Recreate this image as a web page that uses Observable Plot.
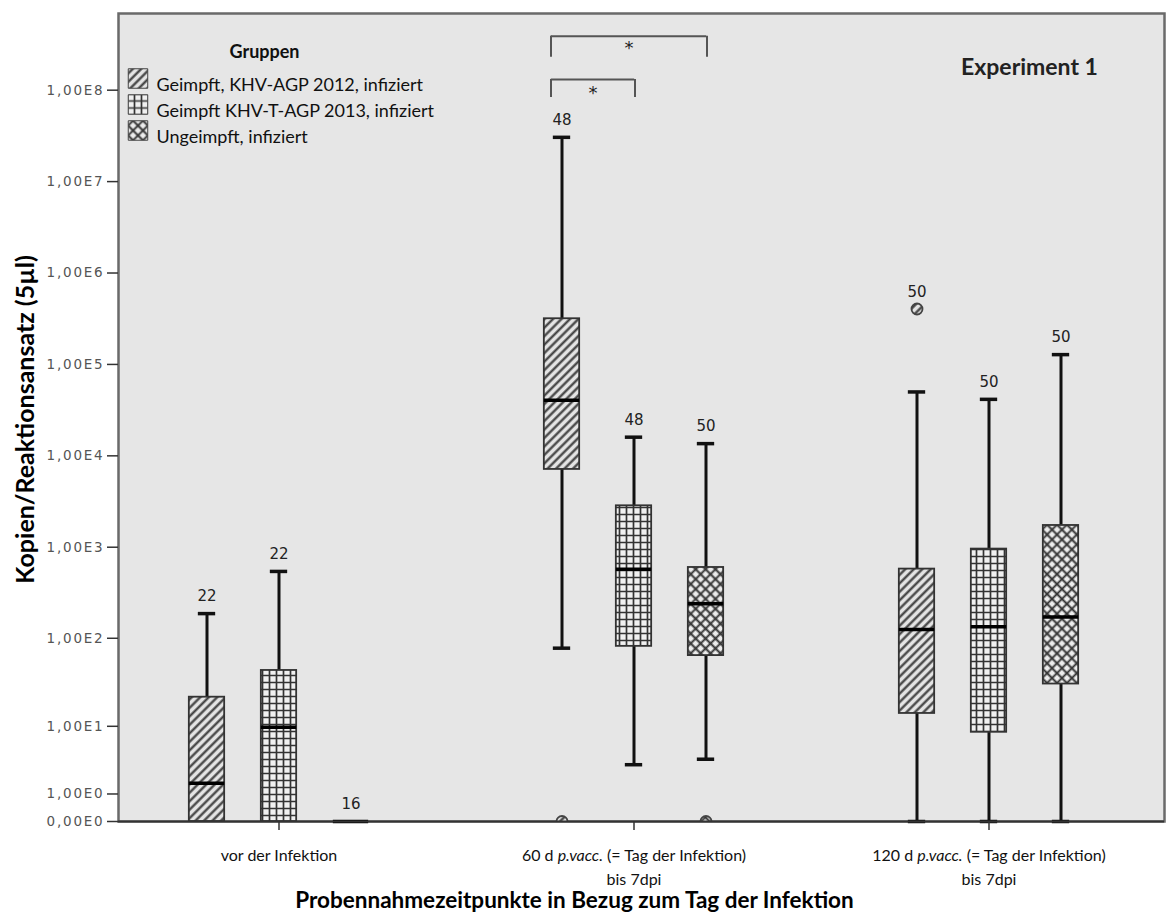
<!DOCTYPE html>
<html><head><meta charset="utf-8">
<script src="https://cdn.jsdelivr.net/npm/d3@7"></script>
<script src="https://cdn.jsdelivr.net/npm/@observablehq/plot@0.6"></script>
<style>
body{margin:0;background:#fff;}
#chart{position:relative;width:1167px;height:916px;}
#chart g[aria-label="y-axis tick label"] text{fill:#555;font-family:"DejaVu Sans",sans-serif;font-size:13.5px;letter-spacing:1.8px;}
#chart g[aria-label="x-axis tick label"] text{fill:#111;font-family:Lato,sans-serif;font-size:16px;}
</style>
</head><body>
<svg width="0" height="0" style="position:absolute">
<defs>
<pattern id="hatch" width="6" height="6" patternUnits="userSpaceOnUse" patternTransform="rotate(45)">
<rect width="6" height="6" fill="#e4e4e4"/><line x1="1.5" y1="0" x2="1.5" y2="6" stroke="#3a3a3a" stroke-width="2.2"/>
</pattern>
<pattern id="grid" width="7" height="7" patternUnits="userSpaceOnUse">
<rect width="7" height="7" fill="#f0f0f0"/><path d="M0,3.5H7M3.5,0V7" stroke="#333" stroke-width="1.7"/>
</pattern>
<pattern id="cross" width="7" height="7" patternUnits="userSpaceOnUse" patternTransform="rotate(45)">
<rect width="7" height="7" fill="#ececec"/><path d="M0,3.5H7M3.5,0V7" stroke="#333" stroke-width="1.9"/>
</pattern>
</defs></svg>
<div id="chart"></div>
<script>
// ---- data ----
const groups = ["vor", "60d", "120d"];
const groupLabels = ["vor der Infektion", "60 d p.vacc. (= Tag der Infektion)\nbis 7dpi", "120 d p.vacc. (= Tag der Infektion)\nbis 7dpi"];
const seriesNames = ["Geimpft, KHV-AGP 2012, infiziert", "Geimpft KHV-T-AGP 2013, infiziert", "Ungeimpft, infiziert"];
// order: group-major, series-minor
const whiskerLow  = [0, 0, 0,      77.7, 3.18, 3.8,     0, 0, 0];
const quart1      = [0, 0, 0,      7100, 81.4, 64.3,    14.2, 8.46, 30.9];
const medians     = [1.62, 9.76, 0, 40600, 573, 240,    125, 134, 172];
const quart3      = [21.9, 43.9, 0, 316000, 2840, 600,  576, 954, 1730];
const whiskerHigh = [187, 543, 0,  3.05e7, 16000, 13600, 50000, 41500, 128000];
const nLabels     = ["22", "22", "16", "48", "48", "50", "50", "50", "50"];
const outlierGroup  = ["60d", "60d", "120d"];
const outlierSeries = [0, 2, 0];
const outlierValue  = [0, 0, 404000];
const yTicks = [0, 1, 10, 100, 1e3, 1e4, 1e5, 1e6, 1e7, 1e8];
const brackets = [
  {group: "60d", from: 0, to: 2, top: 3.88e8, foot: 2.29e8, star: 2.87e8},
  {group: "60d", from: 0, to: 1, top: 1.31e8, foot: 8.34e7, star: 9.2e7}
];

// ---- styles ----
const W = 1167, H = 916;
const xRange = [100, 1167];
const bw = (xRange[1] - xRange[0]) / groups.length;
const offsets = [-72, 0, 72];
const fills = ["url(#hatch)", "url(#grid)", "url(#cross)"];
const boxHalf = 18, capHalf = 9;

const rows = [];
groups.forEach((g, gi) => seriesNames.forEach((s, si) => {
  const k = gi * 3 + si;
  rows.push({group: g, series: si, low: whiskerLow[k], q1: quart1[k], med: medians[k], q3: quart3[k], high: whiskerHigh[k], n: nLabels[k]});
}));
const outliers = outlierGroup.map((g, i) => ({group: g, series: outlierSeries[i], value: outlierValue[i]}));
rows.forEach(r => {
  const o = outliers.filter(d => d.group === r.group && d.series === r.series).map(d => d.value);
  r.labelY = Math.max(r.high, ...o);
});

const marks = [
  Plot.frame({fill: "#e6e6e6", stroke: "#6a6a6a", strokeWidth: 2.5})
];
seriesNames.forEach((s, si) => {
  const R = rows.filter(r => r.series === si);
  const dx = offsets[si];
  marks.push(
    Plot.ruleX(R.filter(r => r.high > r.q3), {x: "group", y1: "q3", y2: "high", dx, stroke: "#111", strokeWidth: 3}),
    Plot.ruleX(R.filter(r => r.low < r.q1), {x: "group", y1: "low", y2: "q1", dx, stroke: "#111", strokeWidth: 3}),
    Plot.tickY(R.filter(r => r.high > r.q3), {x: "group", y: "high", dx, stroke: "#111", strokeWidth: 3.5, insetLeft: bw/2 - capHalf, insetRight: bw/2 - capHalf}),
    Plot.tickY(R.filter(r => r.low < r.q1), {x: "group", y: "low", dx, stroke: "#111", strokeWidth: 3.5, insetLeft: bw/2 - capHalf, insetRight: bw/2 - capHalf}),
    Plot.barY(R.filter(r => r.q3 > r.q1), {x: "group", y1: "q1", y2: "q3", dx, fill: fills[si], stroke: "#333", strokeWidth: 1.8, insetLeft: bw/2 - boxHalf, insetRight: bw/2 - boxHalf}),
    Plot.tickY(R, {x: "group", y: "med", dx, stroke: "#000", strokeWidth: 3.5, insetLeft: bw/2 - boxHalf, insetRight: bw/2 - boxHalf}),
    Plot.dot(outliers.filter(o => o.series === si), {x: "group", y: "value", dx, r: 5.5, fill: fills[si], stroke: "#444", strokeWidth: 1.8, clip: "frame"}),
    Plot.text(R, {x: "group", y: "labelY", dx, dy: -17, text: "n", fontFamily: "DejaVu Sans", fontSize: 15, fill: "#222"})
  );
});
// significance brackets
brackets.forEach(b => {
  const L = offsets[b.from] - 11, Rr = offsets[b.to] + 1;
  marks.push(
    Plot.ruleY([b], {x1: "group", x2: "group", y: "top", insetLeft: bw/2 + L, insetRight: bw/2 - Rr, stroke: "#555", strokeWidth: 2}),
    Plot.ruleX([b], {x: "group", y1: "foot", y2: "top", dx: L, stroke: "#555", strokeWidth: 2}),
    Plot.ruleX([b], {x: "group", y1: "foot", y2: "top", dx: Rr, stroke: "#555", strokeWidth: 2}),
    Plot.text([b], {x: "group", y: "star", dx: (L + Rr) / 2, text: () => "*", fontSize: 18, fontFamily: "DejaVu Sans", fill: "#222"})
  );
});
marks.push(
  Plot.ruleY([0], {stroke: "#333", strokeWidth: 2}),
  Plot.axisY({ticks: yTicks, tickSize: 11, tickPadding: 3, label: null, stroke: "#333", strokeWidth: 1.5,
    tickFormat: d => d === 0 ? "0,00E0" : "1,00E" + Math.round(Math.log10(d))}),
  Plot.axisX({ticks: groups, tickSize: 9, tickPadding: 13, label: null, stroke: "#333", strokeWidth: 1.5, lineHeight: 1.5,
    tickFormat: g => groupLabels[groups.indexOf(g)]}),
  // legend
  Plot.text(["Gruppen"], {frameAnchor: "top-left", dx: 146, dy: 32, text: d => d, textAnchor: "middle", fontWeight: "bold", fontSize: 18, fontFamily: "Lato", fill: "#111"}),
  ...seriesNames.map((s, i) => Plot.dot([s], {frameAnchor: "top-left", dx: 19.5, dy: 65 + i * 26, symbol: "square", r: 11, fill: fills[i], stroke: "#444", strokeWidth: 1})),
  ...seriesNames.map((s, i) => Plot.text([s], {frameAnchor: "top-left", dx: 38, dy: 65 + i * 26, text: d => d, textAnchor: "start", fontSize: 18, fontFamily: "Lato", fill: "#111"})),
  Plot.text(["Experiment 1"], {frameAnchor: "top-right", dx: -135, dy: 45, text: d => d, textAnchor: "middle", fontWeight: "bold", fontSize: 23, fontFamily: "Lato", fill: "#222"}),
  // axis titles
  Plot.text(["Kopien/Reaktionsansatz (5µl)"], {frameAnchor: "left", dx: -93, dy: 2, rotate: -90, textAnchor: "middle", text: d => d, fontWeight: "bold", fontSize: 25, fontFamily: "Lato", fill: "#000"}),
  Plot.text(["Probennahmezeitpunkte in Bezug zum Tag der Infektion"], {frameAnchor: "bottom", dx: -67, dy: 86, text: d => d, fontWeight: "bold", fontSize: 22.5, fontFamily: "Lato", fill: "#000"})
);

const chart = Plot.plot({
  width: W, height: H,
  marginTop: 13, marginLeft: 118, marginRight: 3, marginBottom: 95,
  style: {background: "#fff", fontFamily: "Lato", overflow: "visible"},
  x: {type: "band", domain: groups, range: xRange, padding: 0, axis: null},
  y: {type: "symlog", domain: [0, 6.9e8], axis: null},
  marks
});
// italic "p.vacc." inside tick labels
const ns = "http://www.w3.org/2000/svg";
chart.querySelectorAll("text, tspan").forEach(el => {
  if (el.childNodes.length === 1 && el.firstChild.nodeType === 3 && el.textContent.includes("p.vacc.")) {
    const [a, b] = el.textContent.split("p.vacc.");
    el.textContent = "";
    el.appendChild(document.createTextNode(a));
    const it = document.createElementNS(ns, "tspan");
    it.setAttribute("font-style", "italic");
    it.textContent = "p.vacc.";
    el.appendChild(it);
    el.appendChild(document.createTextNode(b));
  }
});
document.getElementById("chart").appendChild(chart);
</script>
</body></html>
